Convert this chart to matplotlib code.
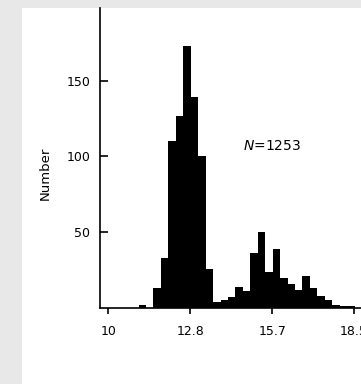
import numpy as np
import matplotlib.pyplot as plt
from matplotlib.patches import Rectangle

# histogram counts
counts = [2, 0, 13, 33, 110, 127, 173, 139, 100, 26, 4, 5, 7, 14, 11,
          36, 50, 24, 39, 20, 16, 12, 21, 13, 8, 5, 2, 1, 1]
bin_start = 11.048
bin_width = 0.2576

xticks = [10, 12.8333, 15.6667, 18.5]
xtick_labels = ['10', '12.8', '15.7', '18.5']
yticks = [50, 100, 150]
label_text = r'$\it{N}$=1253'

edges = bin_start + bin_width * np.arange(len(counts))

fig = plt.figure(figsize=(3.61, 3.84), dpi=100)
fig.patch.set_facecolor('#e8e8e8')
# white "paper" panel
fig.patches.append(Rectangle((22/361, 0), 1 - 22/361, 1 - 8/384,
                             transform=fig.transFigure, facecolor='white',
                             edgecolor='none', zorder=-10))

ax = fig.add_axes([100/361, (384-308)/384, 261/361, 300/384])
ax.set_facecolor('none')
ax.set_zorder(5)

ax.bar(edges, counts, width=bin_width, align='edge', color='black', linewidth=0)

ax.set_xlim(9.713, 18.74)
ax.set_ylim(0, 198)

ax.set_xticks(xticks)
ax.set_xticklabels(xtick_labels)
ax.set_yticks(yticks)

ax.tick_params(axis='x', direction='out', length=4, width=1.2, pad=8, labelsize=9)
ax.tick_params(axis='y', direction='in', length=6, width=1.2, pad=7, labelsize=9)

# style of axes
ax.spines['right'].set_visible(False)
ax.spines['top'].set_visible(False)
ax.spines['bottom'].set_linewidth(1.2)
ax.spines['left'].set_linewidth(1.2)

ax.set_ylabel('Number', fontsize=9.5)
ax.yaxis.set_label_coords(-0.185, 0.45)

ax.text(14.67, 107, label_text, fontsize=10, ha='left', va='center')

fig.savefig('out.png', dpi=100, facecolor=fig.get_facecolor())
